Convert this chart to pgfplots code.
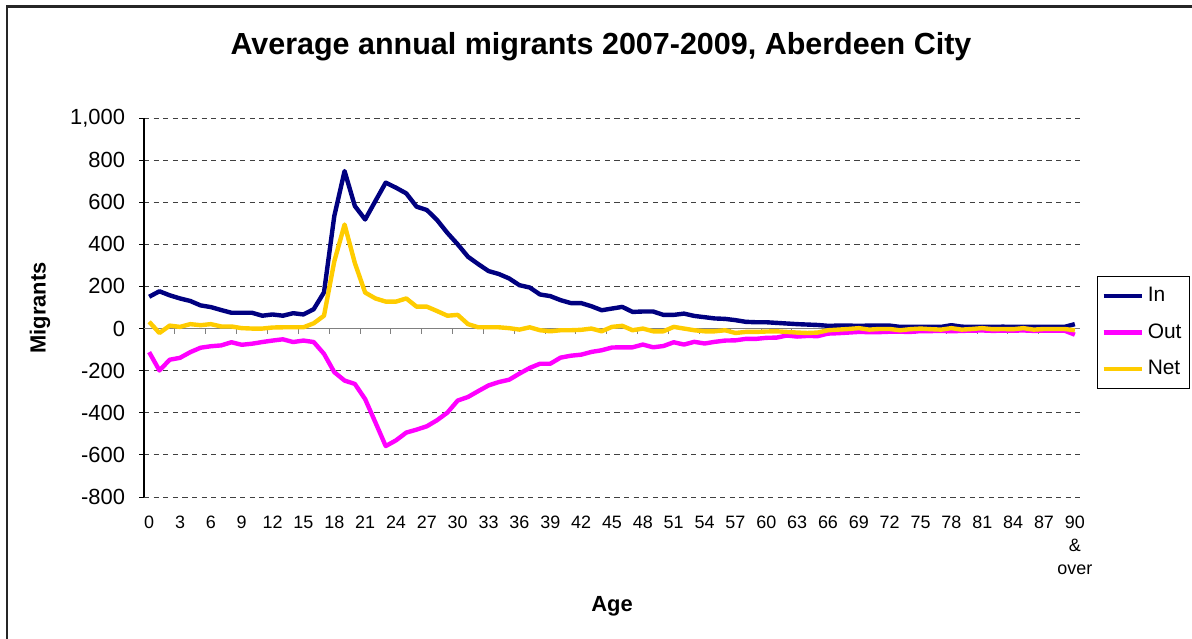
\documentclass[border=0pt]{standalone}
\usepackage{fontspec}
\setmainfont{Liberation Sans}
\usepackage{pgfplots}
\usepackage{pgfplotstable}
\pgfplotsset{compat=1.18}
\definecolor{inblue}{HTML}{000080}
\definecolor{outmag}{HTML}{FF00FF}
\definecolor{netgold}{HTML}{FFCC00}

% average annual migrants by single year of age
\pgfplotstableread{
age in out net
0 151 -112 32
1 177 -199 -21
2 158 -148 14
3 143 -139 8
4 131 -112 21
5 110 -91 16
6 102 -84 21
7 88 -80 10
8 75 -65 10
9 75 -77 2
10 75 -72 0
11 61 -64 0
12 67 -57 5
13 61 -51 6
14 73 -64 6
15 67 -57 6
16 92 -64 25
17 172 -120 61
18 534 -207 319
19 748 -247 494
20 582 -263 311
21 518 -335 171
22 606 -446 143
23 693 -558 128
24 669 -531 128
25 642 -494 143
26 579 -480 104
27 563 -464 104
28 515 -435 83
29 454 -399 61
30 400 -342 65
31 341 -325 21
32 306 -297 6
33 273 -270 6
34 259 -254 6
35 238 -243 2
36 206 -214 -5
37 195 -187 6
38 162 -167 -8
39 154 -167 -13
40 135 -138 -8
41 121 -129 -8
42 121 -124 -6
43 106 -111 0
44 87 -103 -13
45 95 -90 8
46 103 -89 13
47 79 -89 -8
48 81 -76 0
49 81 -89 -13
50 65 -83 -13
51 65 -65 8
52 71 -76 0
53 60 -63 -8
54 54 -71 -13
55 48 -63 -13
56 46 -57 -8
57 40 -56 -21
58 32 -49 -16
59 30 -49 -16
60 30 -44 -14
61 27 -43 -13
62 24 -33 -16
63 21 -38 -19
64 19 -35 -21
65 17 -36 -19
66 13 -24 -8
67 14 -22 -5
68 14 -19 -2
69 13 -16 2
70 14 -17 -5
71 14 -17 -2
72 14 -15 -2
73 8 -15 -8
74 8 -16 -3
75 8 -12 0
76 8 -12 -3
77 8 -11 -5
78 16 -13 2
79 9 -11 -5
80 8 -10 -2
81 8 -9 2
82 8 -11 -3
83 9 -10 -2
84 8 -10 -3
85 8 -9 2
86 8 -11 -5
87 8 -10 -2
88 8 -10 -2
89 8 -10 -2
90 21 -29 -8
}\migtable

\begin{document}
\begin{tikzpicture}
\useasboundingbox (0,0) rectangle (596bp,-319.5bp);
\draw[line width=1.2bp, black!85] (3.5bp,-320bp) -- (3.5bp,-3.2bp) -- (597bp,-3.2bp);

\begin{axis}[
  at={(72bp,-248.5bp)}, anchor=south west,
  scale only axis, width=468bp, height=189.5bp,
  xmin=-0.5, xmax=90.5, ymin=-800, ymax=1000,
  axis x line*=bottom, axis y line*=left,
  x axis line style={draw=none},
  y axis line style={-, black, line width=0.6bp},
  xtick={0,3,...,90},
  xticklabels={0,3,6,9,12,15,18,21,24,27,30,33,36,39,42,45,48,51,54,57,60,63,66,69,72,75,78,81,84,87,{90\\\&\\over}},
  xtick style={draw=none},
  xticklabel style={align=center, font=\fontsize{9}{11.5}\selectfont, yshift=-3.5bp},
  ytick={-800,-600,...,1000},
  yticklabels={-800,-600,-400,-200,0,200,400,600,800,{1,000}},
  yticklabel style={font=\fontsize{11}{12.5}\selectfont, xshift=-3.5bp},
  tick align=outside, major tick length=2.5bp,
  ytick style={black, line width=0.5bp},
  ymajorgrids, major grid style={black!75, line width=0.5bp, dash pattern=on 2.6bp off 2.2bp},
  legend style={at={(1.018,0.584)}, anchor=north west, draw=black, line width=0.5bp,
    font=\fontsize{10.5}{12}\selectfont, row sep=5.5bp, inner xsep=2bp, inner ysep=3.5bp,
    nodes={inner xsep=2bp}},
  legend cell align=left,
  legend image code/.code={\draw[#1, line width=2.2bp] (0bp,0bp) -- (19bp,0bp);},
  every axis plot/.append style={line width=2.2bp, line join=round, no markers},
]
\draw[gray, line width=0.7bp] (axis cs:-0.5,0) -- (axis cs:90.5,0);
\pgfplotsinvokeforeach{2.5,5.5,...,89.5}{
  \draw[gray, line width=0.5bp] (axis cs:#1,0) -- ([yshift=-2.5bp]axis cs:#1,0);
}
\addplot[inblue] table[x=age, y=in] {\migtable};
\addplot[outmag] table[x=age, y=out] {\migtable};
\addplot[netgold] table[x=age, y=net] {\migtable};
\legend{In, Out, Net}
\end{axis}

\node[font=\fontsize{15.3}{18}\selectfont\bfseries] at (300.5bp,-23.5bp) {Average annual migrants 2007-2009, Aberdeen City};
\node[font=\fontsize{11}{13}\selectfont\bfseries, rotate=90] at (20bp,-154bp) {Migrants};
\node[font=\fontsize{11}{13}\selectfont\bfseries] at (306bp,-303bp) {Age};
\end{tikzpicture}
\end{document}
